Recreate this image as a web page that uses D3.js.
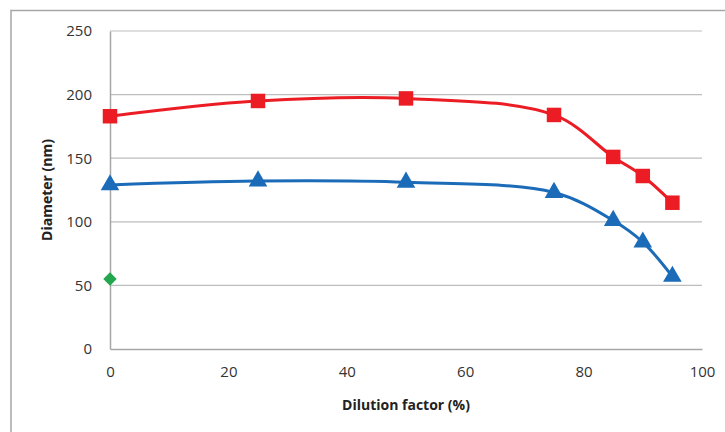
<!DOCTYPE html>
<html><head><meta charset="utf-8">
<script src="https://cdn.jsdelivr.net/npm/d3@7"></script>
<style>body{margin:0;background:#fff}svg{display:block}</style>
</head><body><svg id="c" width="725" height="432"></svg>
<script>
const dilution = [0, 25, 50, 75, 85, 90, 95];
const redSeries = [183, 195, 197, 184, 151, 136, 115];
const blueSeries = [129, 132, 131, 123, 101, 84, 57];
const greenX = [0];
const greenSeries = [55];
const xTicks = [0, 20, 40, 60, 80, 100];
const yTicks = [0, 50, 100, 150, 200, 250];

const svg = d3.select("#c");
const m = {l:110, r:702, t:31, b:349};
const x = d3.scaleLinear().domain([0,100]).range([m.l, m.r]);
const y = d3.scaleLinear().domain([0,250]).range([m.b, m.t]);
const font = "'Open Sans', sans-serif";

// outer frame
svg.append("path").attr("d","M11,432 V10.5 H725").attr("fill","none").attr("stroke","#a6a6a6").attr("stroke-width",1.5);

// gridlines
svg.append("g").selectAll("line").data(yTicks.filter(d=>d>0)).join("line")
  .attr("x1",m.l).attr("x2",m.r).attr("y1",d=>y(d)).attr("y2",d=>y(d))
  .attr("stroke","#bdbdbd").attr("stroke-width",1.2);

// axes
const yAxis = svg.append("g").attr("transform",`translate(${m.l},0)`)
  .call(d3.axisLeft(y).tickValues(yTicks).tickSize(0).tickPadding(18));
const xAxis = svg.append("g").attr("transform",`translate(0,${m.b})`)
  .call(d3.axisBottom(x).tickValues(xTicks).tickSize(0).tickPadding(17));
[yAxis,xAxis].forEach(a=>{
  a.select(".domain").attr("stroke","#a6a6a6").attr("stroke-width",1.5);
  a.selectAll("text").attr("font-family",font).attr("font-size",15).attr("fill","#333");
});

// titles
svg.append("text").attr("x",(m.l+m.r)/2).attr("y",410).attr("text-anchor","middle")
  .attr("font-family",font).attr("font-size",14).attr("font-weight","bold").attr("fill","#222")
  .text("Dilution factor (%)");
svg.append("text").attr("transform",`translate(52,${(m.t+m.b)/2}) rotate(-90)`).attr("text-anchor","middle")
  .attr("font-family",font).attr("font-size",14).attr("font-weight","bold").attr("fill","#222")
  .text("Diameter (nm)");

const line = d3.line().x(d=>x(d[0])).y(d=>y(d[1])).curve(d3.curveCatmullRom.alpha(0.5));
const red = "#ec1c24", blue = "#1b6bb8", green = "#23a64d";
const redPts = dilution.map((d,i)=>[d,redSeries[i]]);
const bluePts = dilution.map((d,i)=>[d,blueSeries[i]]);

svg.append("path").datum(redPts).attr("d",line).attr("fill","none").attr("stroke",red).attr("stroke-width",3);
svg.append("path").datum(bluePts).attr("d",line).attr("fill","none").attr("stroke",blue).attr("stroke-width",3);

svg.append("g").selectAll("path").data(redPts).join("path")
  .attr("transform",d=>`translate(${x(d[0])},${y(d[1])})`)
  .attr("d",d3.symbol(d3.symbolSquare,210)).attr("fill",red);
svg.append("g").selectAll("path").data(bluePts).join("path")
  .attr("transform",d=>`translate(${x(d[0])},${y(d[1])})`)
  .attr("d",d3.symbol(d3.symbolTriangle,150)).attr("fill",blue);
svg.append("g").selectAll("path").data(greenX.map((d,i)=>[d,greenSeries[i]])).join("path")
  .attr("transform",d=>`translate(${x(d[0])},${y(d[1])}) rotate(45)`)
  .attr("d",d3.symbol(d3.symbolSquare,90)).attr("fill",green);
</script></body></html>
